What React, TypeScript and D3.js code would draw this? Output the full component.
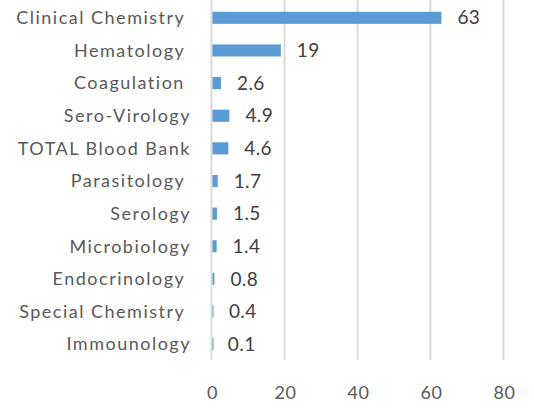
import React, { useEffect, useRef } from 'react';
import * as d3 from 'd3';

// some source labels carry a trailing space, as in the original sheet
const categories = [
  'Clinical Chemistry ',
  'Hematology ',
  'Coagulation ',
  'Sero-Virology',
  'TOTAL Blood Bank',
  'Parasitology ',
  'Serology',
  'Microbiology',
  'Endocrinology ',
  'Special Chemistry ',
  'Immounology',
];
const values = [63, 19, 2.6, 4.9, 4.6, 1.7, 1.5, 1.4, 0.8, 0.4, 0.1];
const ticks = [0, 20, 40, 60, 80];

const App = () => {
  const ref = useRef<SVGSVGElement>(null);

  useEffect(() => {
    const width = 534;
    const height = 408;
    const font = 'Lato, sans-serif';

    const svg = d3.select(ref.current);
    svg.selectAll('*').remove();

    const x = d3.scaleLinear().domain([0, 80]).range([211.5, 503.5]);
    const y = d3.scaleBand().domain(categories).range([2, 360]).paddingInner(0.63).paddingOuter(0.3);

    svg.append('rect').attr('width', width).attr('height', height).attr('fill', 'white');

    // gridlines
    svg
      .append('g')
      .selectAll('line')
      .data(ticks)
      .join('line')
      .attr('x1', (d) => x(d))
      .attr('x2', (d) => x(d))
      .attr('y1', 0)
      .attr('y2', 360)
      .attr('stroke', '#d9d9d9')
      .attr('stroke-width', 2);

    // bars
    svg
      .append('g')
      .selectAll('rect')
      .data(values)
      .join('rect')
      .attr('x', x(0) + 1)
      .attr('y', (d, i) => y(categories[i]))
      .attr('width', (d) => Math.max(x(d) - x(0) - 1, 1))
      .attr('height', y.bandwidth())
      .attr('fill', '#5b9bd5');

    // value labels
    svg
      .append('g')
      .selectAll('text')
      .data(values)
      .join('text')
      .attr('x', (d) => x(d) + 16)
      .attr('y', (d, i) => y(categories[i]) + y.bandwidth() / 2)
      .attr('dy', '0.35em')
      .attr('font-family', font)
      .attr('font-size', 19)
      .attr('letter-spacing', 0.4)
      .attr('fill', '#404040')
      .text((d) => String(d));

    // category labels
    svg
      .append('g')
      .selectAll('text')
      .data(categories)
      .join('text')
      .attr('x', 191)
      .attr('y', (d) => y(d) + y.bandwidth() / 2)
      .attr('dy', '0.35em')
      .attr('text-anchor', 'end')
      .attr('font-family', font)
      .attr('font-size', 18)
      .attr('letter-spacing', 1.5)
      .style('white-space', 'pre')
      .attr('fill', '#595959')
      .text((d) => d);

    // x tick labels
    svg
      .append('g')
      .selectAll('text')
      .data(ticks)
      .join('text')
      .attr('x', (d) => x(d) + 1)
      .attr('y', 393)
      .attr('dy', '0.35em')
      .attr('text-anchor', 'middle')
      .attr('font-family', font)
      .attr('font-size', 18)
      .attr('letter-spacing', 0.5)
      .attr('fill', '#595959')
      .text((d) => String(d));
  }, []);

  return (
    <svg
      ref={ref}
      width={534}
      height={408}
      style={{ position: 'absolute', left: 0, top: 0, display: 'block' }}
    />
  );
};

export default App;
